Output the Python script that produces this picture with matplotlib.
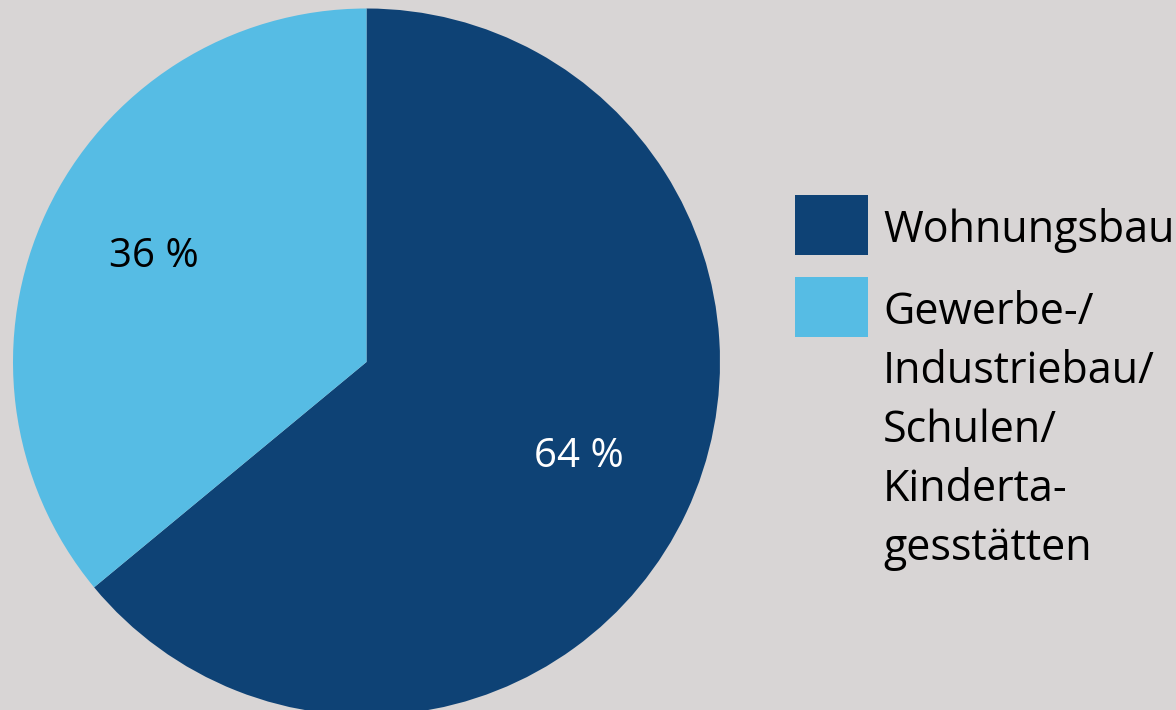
import matplotlib.pyplot as plt
from matplotlib.patches import Rectangle

labels = ['Wohnungsbau', 'Gewerbe-/\nIndustriebau/\nSchulen/\nKinderta-\ngesstätten']
shares = [64, 36]
colors = ['#0e4275', '#56bce4']
pct_colors = ['white', 'black']

bg = '#d8d5d5'
plt.rcParams['font.family'] = ['Open Sans', 'DejaVu Sans']

fig = plt.figure(figsize=(11.76, 7.10), dpi=100, facecolor=bg)
ax = fig.add_axes([0, 0, 1, 1])
ax.set_facecolor(bg)

wedges, texts, autotexts = ax.pie(
    shares, colors=colors, startangle=90, counterclock=False,
    center=(366.5, -362), radius=353.5,
    autopct=lambda p: f'{p:.0f} %', pctdistance=0.665,
    textprops={'fontsize': 29},
)
for t, c in zip(autotexts, pct_colors):
    t.set_color(c)
    x, y = t.get_position()
    t.set_position((x, y + 5))  # nudge up a little

ax.set_xlim(0, 1176)
ax.set_ylim(-710, 0)
ax.set_aspect('equal')
ax.axis('off')

# legend drawn by hand
box_tops = [195, 277]
text_tops = [208, 291]
for lab, col, top, ttop in zip(labels, colors, box_tops, text_tops):
    ax.add_patch(Rectangle((795, -top - 60), 73, 60, facecolor=col, edgecolor='none'))
    ax.text(883, -ttop, lab, fontsize=31, va='top', ha='left',
            linespacing=1.43, color='black')

fig.savefig('out.png', dpi=100, facecolor=bg)
